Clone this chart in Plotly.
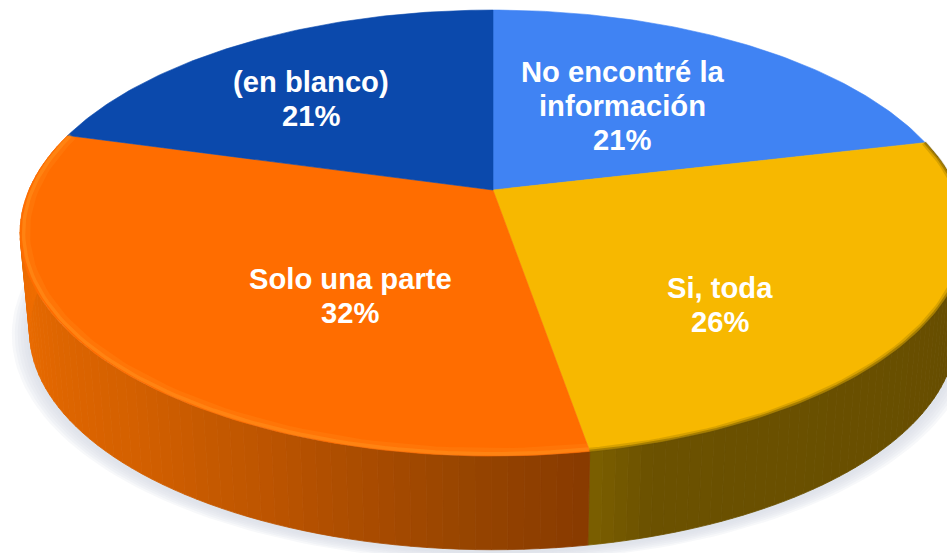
import numpy as np
import plotly.graph_objects as go

# Data, clockwise from the top of the pie
categories = [["No encontré la", "información"], ["Si, toda"], ["Solo una parte"], ["(en blanco)"]]
values = [21.3, 26.0, 32.0, 20.7]
percent_labels = ["21%", "26%", "32%", "21%"]

# Styles
TOP_COLORS = ["#4083F3", "#F7B800", "#FF6D00", "#0B49AC"]
RIMS = {
    1: [("rgba(110,85,0,0.22)", 5, 0.997), ("rgba(110,85,0,0.45)", 2.5, 0.999)],
    2: [("rgba(255,146,30,0.22)", 8, 0.988), ("rgba(255,146,30,0.5)", 3.5, 0.993)],
}
SIDE_STOPS = {
    1: [(0.0, (100, 75, 0)), (0.93, (107, 81, 0)), (1.0, (124, 96, 0))],
    2: [(0.0, (136, 58, 0)), (0.1, (150, 68, 0)), (0.2, (170, 76, 0)), (0.3, (190, 85, 0)),
        (0.45, (212, 96, 0)), (0.7, (232, 106, 0)), (1.0, (246, 112, 0))],
}
LABEL_POS = [(622, 72), (720, 288), (350, 279), (311, 82)]
LINE_STEP = 34

# Pie projection (perspective view of a flat disc, page pixels)
CX, CY, A, B, K = 493.0, 190.0, 464.0, 214.7, 0.193
SX, SY, DEPTH = 0.98, 0.98, 99.0


def project(theta, r=1.0):
    u, v = r * np.sin(theta), r * np.cos(theta)
    w = 1 + K * v
    return CX + A * u / w, CY - B * v / w


def lower(x, y):
    return CX + SX * (x - CX), CY + DEPTH + SY * (y - CY)


def poly(fig, x, y, color, lw=0.8):
    fig.add_trace(go.Scatter(x=x, y=y, mode="lines", fill="toself", fillcolor=color,
                             line=dict(color=color, width=lw), hoverinfo="skip", showlegend=False))


def lerp_color(stops, t):
    for (t0, c0), (t1, c1) in zip(stops, stops[1:]):
        if t <= t1:
            f = (t - t0) / (t1 - t0)
            c = [round(a + (b - a) * f) for a, b in zip(c0, c1)]
            return f"rgb({c[0]},{c[1]},{c[2]})"
    c = stops[-1][1]
    return f"rgb({c[0]},{c[1]},{c[2]})"


fig = go.Figure()

total = sum(values)
edges = np.concatenate([[0], np.cumsum(values)]) / total * 2 * np.pi

# Soft shadow behind the body
full = np.linspace(0, 2 * np.pi, 241)
fx, fy = project(full)
lx, ly = lower(fx, fy)
for grow in (18, 15, 12, 9, 6, 3):
    f = 1 + grow / 470
    poly(fig, CX + (lx - CX) * f, CY + 99 + 2 + (ly - CY - 99) * f, "rgba(215,218,232,0.2)", 0)

# Side wall of the pie
for i, stops in SIDE_STOPS.items():
    t0, t1 = edges[i], edges[i + 1]
    n = 70
    grid = np.linspace(t0, t1, n + 1)
    for j in range(n):
        seg = np.linspace(grid[j], grid[j + 1], 3)
        x, y = project(seg)
        bx, by = lower(x, y)
        poly(fig, np.r_[x, bx[::-1], x[0]], np.r_[y, by[::-1], y[0]], lerp_color(stops, (j + 0.5) / n))

# Top face
for i, color in enumerate(TOP_COLORS):
    seg = np.linspace(edges[i], edges[i + 1], 90)
    x, y = project(seg)
    poly(fig, np.r_[CX, x, CX], np.r_[CY, y, CY], color, 0.6)

# Soft bevel along the front rim
for i, layers in RIMS.items():
    seg = np.linspace(edges[i], edges[i + 1], 90)
    for color, width, r in layers:
        x, y = project(seg, r)
        fig.add_trace(go.Scatter(x=x, y=y, mode="lines", line=dict(color=color, width=width),
                                 hoverinfo="skip", showlegend=False))

# Labels, one annotation per line for the tight line spacing
for cat, pct, (lbx, lby) in zip(categories, percent_labels, LABEL_POS):
    for k, line in enumerate(cat + [pct]):
        fig.add_annotation(x=lbx, y=lby + k * LINE_STEP, text=line, showarrow=False,
                           font=dict(family="Liberation Sans", size=29.2, color="white", weight="bold"),
                           align="center", xanchor="center", yanchor="middle")

fig.update_layout(
    width=947, height=553, margin=dict(l=0, r=0, t=0, b=0),
    paper_bgcolor="white", plot_bgcolor="white", showlegend=False,
    xaxis=dict(range=[0, 947], visible=False, fixedrange=True),
    yaxis=dict(range=[553, 0], visible=False, fixedrange=True),
)
fig.write_html("out.html", config={"displayModeBar": False},
               post_script="document.body.style.margin='0';document.documentElement.style.overflow='hidden';")
